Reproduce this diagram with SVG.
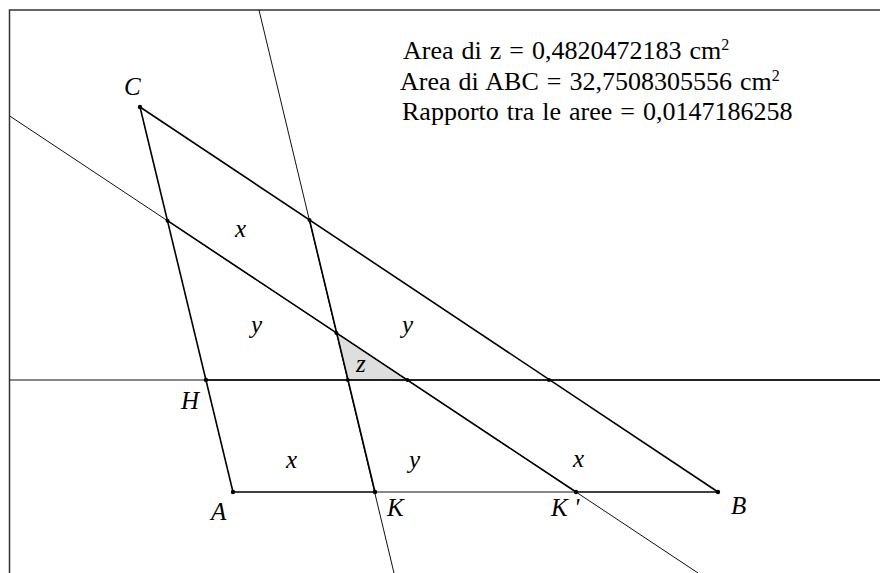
<svg xmlns="http://www.w3.org/2000/svg" width="880" height="573" viewBox="0 0 880 573">
<style>
.thin{stroke:#111;stroke-width:1;fill:none}
.thick{stroke:#000;stroke-width:1.6;fill:none}
.frame{stroke:#333;stroke-width:1.5;fill:none}
.lbl{font-family:"Liberation Serif","Times New Roman",serif;font-style:italic;font-size:25px;fill:#000}
.txt{font-family:"Liberation Serif","Times New Roman",serif;font-size:26px;word-spacing:1.5px;fill:#000}
.sup{font-size:16px}
.pt{fill:#000}
</style>
<rect width="880" height="573" fill="#fff"/>
<g id="frame"><path class="frame" d="M9.5,573 V10 H880"/></g>
<g id="region-z"><polygon points="336.4,332.9 347.7,380 407.4,380" fill="#dedede"/></g>
<g id="connectors">
<line class="thin" x1="259" y1="10" x2="394" y2="573"/>
<line class="thin" x1="10" y1="116.2" x2="698" y2="573"/>
<line class="thin" x1="10" y1="380" x2="880" y2="380"/>
<line class="thin" x1="375" y1="492" x2="576" y2="492"/>
<line class="thick" x1="140" y1="107" x2="233" y2="492"/>
<line class="thick" x1="140" y1="107" x2="718" y2="492"/>
<line class="thick" x1="233" y1="492" x2="375" y2="492"/>
<line class="thick" x1="576" y1="492" x2="718" y2="492"/>
<line class="thick" x1="206" y1="380" x2="880" y2="380"/>
<line class="thick" x1="309.5" y1="220" x2="375" y2="492"/>
<line class="thick" x1="167.5" y1="220.7" x2="576" y2="492"/>
</g>
<g id="C"><circle class="pt" cx="140" cy="107" r="2.2"/><text class="lbl" x="124" y="95">C</text></g>
<g id="A"><circle class="pt" cx="233" cy="492" r="2.2"/><text class="lbl" x="211" y="520">A</text></g>
<g id="B"><circle class="pt" cx="718" cy="492" r="2.2"/><text class="lbl" x="731" y="514">B</text></g>
<g id="H"><circle class="pt" cx="206" cy="380" r="2.2"/><text class="lbl" x="181" y="409">H</text></g>
<g id="K"><circle class="pt" cx="375" cy="492" r="2.2"/><text class="lbl" x="387" y="516">K</text></g>
<g id="K1"><circle class="pt" cx="576" cy="492" r="2.2"/><text class="lbl" x="551" y="516">K '</text></g>
<g id="points">
<circle class="pt" cx="167.5" cy="220.7" r="2"/>
<circle class="pt" cx="309.5" cy="220" r="2"/>
<circle class="pt" cx="336.4" cy="332.9" r="2"/>
<circle class="pt" cx="347.7" cy="380" r="2"/>
<circle class="pt" cx="407.4" cy="380" r="2"/>
<circle class="pt" cx="549" cy="380" r="2"/>
</g>
<g id="areas">
<text class="lbl" x="235" y="237">x</text>
<text class="lbl" x="251" y="333">y</text>
<text class="lbl" x="402" y="333">y</text>
<text class="lbl" x="356" y="372">z</text>
<text class="lbl" x="286" y="468">x</text>
<text class="lbl" x="409" y="468">y</text>
<text class="lbl" x="573" y="467">x</text>
</g>
<g id="measures">
<text class="txt" x="403" y="59">Area di z = 0,4820472183 cm<tspan class="sup" dy="-9">2</tspan></text>
<text class="txt" x="400" y="90">Area di ABC = 32,7508305556 cm<tspan class="sup" dy="-9">2</tspan></text>
<text class="txt" x="402" y="120">Rapporto tra le aree = 0,0147186258</text>
</g>
</svg>
